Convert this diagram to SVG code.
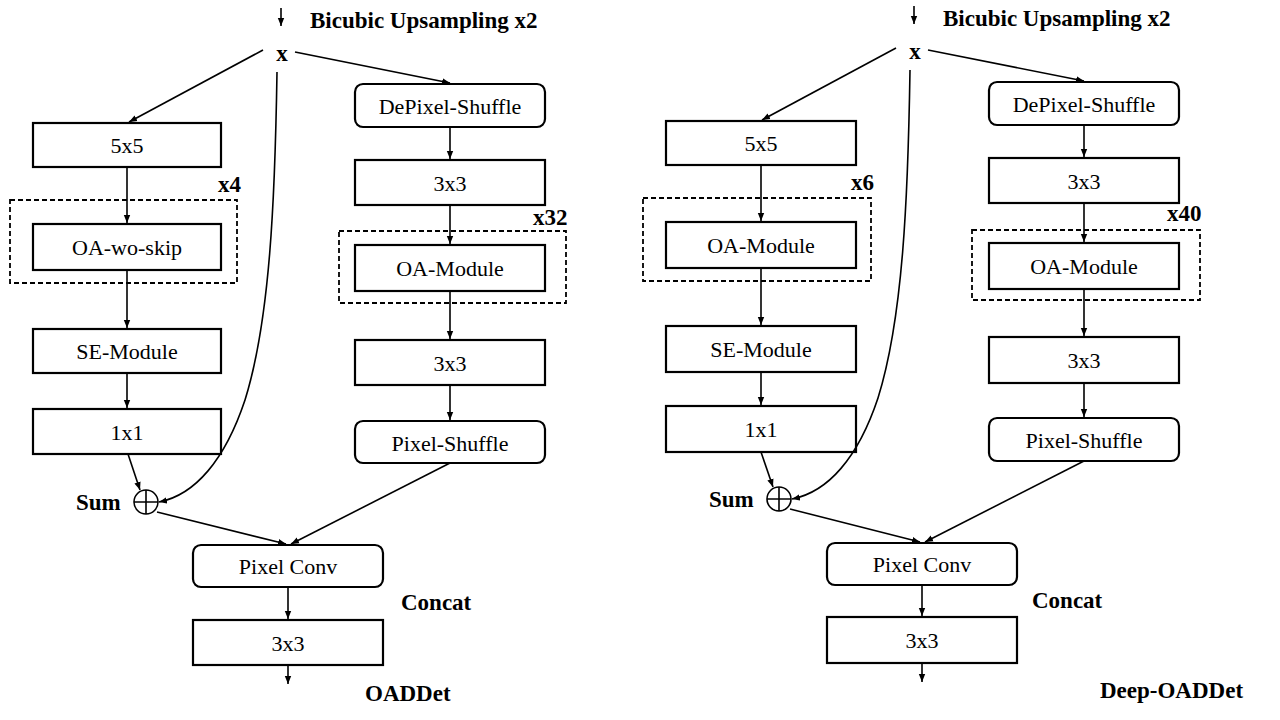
<svg xmlns="http://www.w3.org/2000/svg" width="1280" height="720" viewBox="0 0 1280 720">
<defs>
<marker id="ah" viewBox="0 0 10 10" refX="10" refY="5" markerWidth="8" markerHeight="8" markerUnits="userSpaceOnUse" orient="auto">
<path d="M0,1 L10,5 L0,9 Z" fill="#000"/>
</marker>
<style>
.box{fill:#fff;stroke:#000;stroke-width:2.2}
.dash{fill:none;stroke:#000;stroke-width:1.8;stroke-dasharray:5,3}
.lbl{font-family:"Liberation Serif","DejaVu Serif",serif;font-size:22px;text-anchor:middle;fill:#000}
.bold{font-family:"Liberation Serif","DejaVu Serif",serif;font-size:23px;font-weight:bold;fill:#000}
.ln{fill:none;stroke:#000;stroke-width:1.6;marker-end:url(#ah)}
.ci{fill:#fff;stroke:#000;stroke-width:1.6}
</style>
</defs>
<rect width="1280" height="720" fill="#fff"/>

<!-- LEFT: OADDet -->
<g id="oaddet">
<g id="L-title"><text class="bold" x="310" y="28">Bicubic Upsampling x2</text></g>
<g id="L-x"><text class="bold" x="282" y="61" text-anchor="middle">x</text></g>
<g id="L-5x5"><rect class="box" x="33" y="123" width="188" height="44"/><text class="lbl" x="127" y="153">5x5</text></g>
<g id="L-rep4"><rect class="dash" x="10" y="200" width="227" height="83"/><text class="bold" x="218" y="192">x4</text></g>
<g id="L-oawo"><rect class="box" x="33" y="224" width="188" height="46"/><text class="lbl" x="127" y="255">OA-wo-skip</text></g>
<g id="L-se"><rect class="box" x="33" y="329" width="188" height="44"/><text class="lbl" x="127" y="359">SE-Module</text></g>
<g id="L-1x1"><rect class="box" x="33" y="409" width="188" height="45"/><text class="lbl" x="127" y="440">1x1</text></g>
<g id="L-sum"><circle class="ci" cx="146" cy="502" r="12"/><path d="M134,502 H158 M146,490 V514" stroke="#000" stroke-width="1.6"/><text class="bold" x="76" y="510">Sum</text></g>
<g id="L-depix"><rect class="box" x="355" y="84" width="190" height="43" rx="8"/><text class="lbl" x="450" y="114">DePixel-Shuffle</text></g>
<g id="L-3x3a"><rect class="box" x="355" y="160" width="190" height="45"/><text class="lbl" x="450" y="191">3x3</text></g>
<g id="L-rep32"><rect class="dash" x="339" y="231" width="227" height="72"/><text class="bold" x="533" y="225">x32</text></g>
<g id="L-oa"><rect class="box" x="355" y="245" width="190" height="46"/><text class="lbl" x="450" y="276">OA-Module</text></g>
<g id="L-3x3b"><rect class="box" x="355" y="340" width="190" height="45"/><text class="lbl" x="450" y="371">3x3</text></g>
<g id="L-pixsh"><rect class="box" x="355" y="421" width="190" height="42" rx="8"/><text class="lbl" x="450" y="451">Pixel-Shuffle</text></g>
<g id="L-pixconv"><rect class="box" x="193" y="545" width="190" height="42" rx="8"/><text class="lbl" x="288" y="574">Pixel Conv</text></g>
<g id="L-concat"><text class="bold" x="401" y="610">Concat</text></g>
<g id="L-3x3c"><rect class="box" x="193" y="620" width="190" height="45"/><text class="lbl" x="288" y="651">3x3</text></g>
<g id="L-name"><text class="bold" x="365" y="701">OADDet</text></g>
<g id="L-connectors">
<path class="ln" d="M281,8 V26"/>
<path class="ln" d="M263,50 L129,122"/>
<path class="ln" d="M295,52 L450,83"/>
<path class="ln" d="M127,167 V223"/>
<path class="ln" d="M127,270 V328"/>
<path class="ln" d="M127,373 V408"/>
<path class="ln" d="M128,454 L140,490"/>
<path class="ln" d="M277,72 C275,200 270,320 245,400 C225,460 195,495 159,502"/>
<path class="ln" d="M450,127 V159"/>
<path class="ln" d="M450,205 V244"/>
<path class="ln" d="M450,291 V339"/>
<path class="ln" d="M450,385 V420"/>
<path class="ln" d="M157,512 L286,544"/>
<path class="ln" d="M450,463 L291,544"/>
<path class="ln" d="M288,587 V619"/>
<path class="ln" d="M288,665 V684"/>
</g>
</g>

<!-- RIGHT: Deep-OADDet -->
<g id="deep-oaddet" transform="translate(633,-2)">
<g id="R-title"><text class="bold" x="310" y="28">Bicubic Upsampling x2</text></g>
<g id="R-x"><text class="bold" x="282" y="61" text-anchor="middle">x</text></g>
<g id="R-5x5"><rect class="box" x="33" y="123" width="190" height="44"/><text class="lbl" x="128" y="153">5x5</text></g>
<g id="R-rep6"><rect class="dash" x="10" y="200" width="228" height="83"/><text class="bold" x="218" y="192">x6</text></g>
<g id="R-oa1"><rect class="box" x="33" y="224" width="190" height="46"/><text class="lbl" x="128" y="255">OA-Module</text></g>
<g id="R-se"><rect class="box" x="33" y="328" width="190" height="46"/><text class="lbl" x="128" y="359">SE-Module</text></g>
<g id="R-1x1"><rect class="box" x="33" y="408" width="190" height="46"/><text class="lbl" x="128" y="439">1x1</text></g>
<g id="R-sum"><circle class="ci" cx="146" cy="501" r="12"/><path d="M134,501 H158 M146,489 V513" stroke="#000" stroke-width="1.6"/><text class="bold" x="76" y="509">Sum</text></g>
<g id="R-depix"><rect class="box" x="356" y="84" width="190" height="43" rx="8"/><text class="lbl" x="451" y="114">DePixel-Shuffle</text></g>
<g id="R-3x3a"><rect class="box" x="356" y="160" width="190" height="45"/><text class="lbl" x="451" y="191">3x3</text></g>
<g id="R-rep40"><rect class="dash" x="339" y="232" width="228" height="70"/><text class="bold" x="534" y="223">x40</text></g>
<g id="R-oa2"><rect class="box" x="356" y="245" width="190" height="46"/><text class="lbl" x="451" y="276">OA-Module</text></g>
<g id="R-3x3b"><rect class="box" x="356" y="339" width="190" height="46"/><text class="lbl" x="451" y="370">3x3</text></g>
<g id="R-pixsh"><rect class="box" x="356" y="420" width="190" height="43" rx="8"/><text class="lbl" x="451" y="450">Pixel-Shuffle</text></g>
<g id="R-pixconv"><rect class="box" x="194" y="545" width="190" height="42" rx="8"/><text class="lbl" x="289" y="574">Pixel Conv</text></g>
<g id="R-concat"><text class="bold" x="399" y="610">Concat</text></g>
<g id="R-3x3c"><rect class="box" x="194" y="619" width="190" height="46"/><text class="lbl" x="289" y="650">3x3</text></g>
<g id="R-name"><text class="bold" x="467" y="700">Deep-OADDet</text></g>
<g id="R-connectors">
<path class="ln" d="M281,8 V26"/>
<path class="ln" d="M263,50 L129,122"/>
<path class="ln" d="M295,52 L451,83"/>
<path class="ln" d="M128,167 V223"/>
<path class="ln" d="M128,270 V327"/>
<path class="ln" d="M128,374 V407"/>
<path class="ln" d="M128,454 L140,489"/>
<path class="ln" d="M277,72 C275,200 270,320 245,400 C225,460 195,494 159,501"/>
<path class="ln" d="M451,127 V159"/>
<path class="ln" d="M451,205 V244"/>
<path class="ln" d="M451,291 V338"/>
<path class="ln" d="M451,385 V419"/>
<path class="ln" d="M157,511 L287,544"/>
<path class="ln" d="M451,463 L292,544"/>
<path class="ln" d="M289,587 V618"/>
<path class="ln" d="M289,665 V684"/>
</g>
</g>
</svg>
